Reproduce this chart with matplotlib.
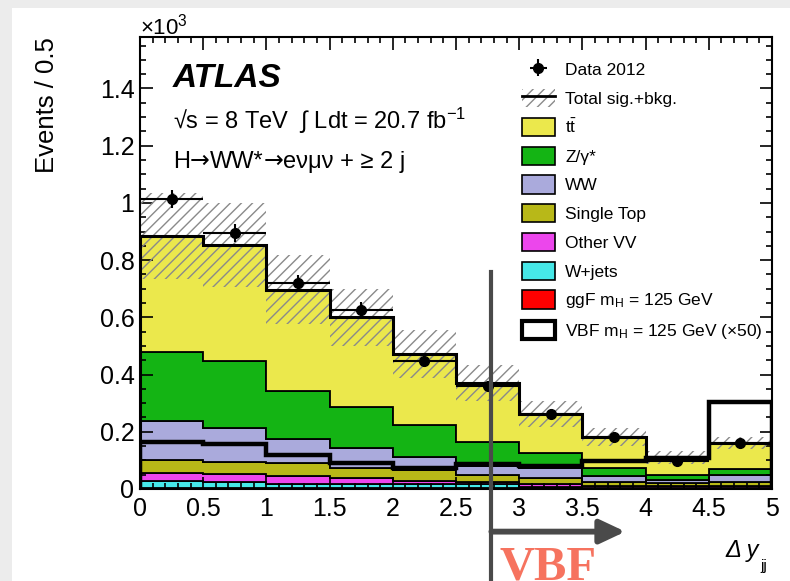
import numpy as np
import matplotlib
matplotlib.use('Agg')
import matplotlib.pyplot as plt
from matplotlib.patches import Patch, Rectangle
from matplotlib.lines import Line2D
from matplotlib.ticker import MultipleLocator, FuncFormatter

plt.rcParams['font.family'] = ['Liberation Sans', 'DejaVu Sans']
plt.rcParams['mathtext.fontset'] = 'custom'
plt.rcParams['mathtext.rm'] = 'Liberation Sans'
plt.rcParams['mathtext.it'] = 'Liberation Sans:italic'
plt.rcParams['mathtext.bf'] = 'Liberation Sans:bold'
plt.rcParams['hatch.linewidth'] = 1.0

# bins in delta y_jj
edges = [0.0, 0.5, 1.0, 1.5, 2.0, 2.5, 3.0, 3.5, 4.0, 4.5, 5.0]
centres = [0.25, 0.75, 1.25, 1.75, 2.25, 2.75, 3.25, 3.75, 4.25, 4.75]

# events per bin
data_2012 = [1013, 895, 720, 627, 446, 360, 263, 181, 99, 160]
ggf = [4, 4, 3, 3, 3, 3, 3, 2, 2, 2]
wjets = [24, 19, 15, 13, 13, 13, 5, 3, 3, 3]
other_vv = [27, 29, 29, 21, 13, 10, 10, 5, 5, 5]
single_top = [45, 44, 45, 35, 37, 23, 22, 15, 10, 16]
ww = [138, 116, 83, 70, 47, 31, 32, 22, 12, 23]
zjets = [242, 234, 169, 144, 111, 86, 53, 28, 17, 20]
ttbar = [404, 406, 353, 314, 248, 204, 137, 106, 62, 91]
total_unc = [150, 146, 120, 100, 83, 64, 44, 31, 22, 21]
vbf_x50 = [166, 156, 119, 90, 72, 88, 80, 99, 110, 305]

W, H = 790, 581


def fx(x):
    return x / W


def fy(y):
    return 1 - y / H


fig = plt.figure(figsize=(7.9, 5.81), dpi=100, facecolor='#ececec')
fig.patches.append(Rectangle((fx(12), 0), 1 - fx(12), fy(8), transform=fig.transFigure,
                             facecolor='white', edgecolor='none', zorder=-10))
ax = fig.add_axes([fx(140), fy(489), fx(632), 452 / H])

# stacked backgrounds, bottom to top
stack = [
    (ggf, '#ff0000', 'ggF m$_{\\mathrm{H}}$ = 125 GeV'),
    (wjets, '#46e8e8', 'W+jets'),
    (other_vv, '#ec46ec', 'Other VV'),
    (single_top, '#b8b818', 'Single Top'),
    (ww, '#aaaadc', 'WW'),
    (zjets, '#14b414', 'Z/\u03b3*'),
    (ttbar, '#ebe84c', '$\\mathrm{t\\bar{t}}$'),
]
base = np.zeros(len(centres))
for vals, col, lab in stack:
    top = base + np.array(vals)
    ax.stairs(top, edges, baseline=base, fill=True, facecolor=col,
              edgecolor='k', lw=1.3, zorder=1)
    base = top
total = base

unc = np.array(total_unc)
ax.stairs(total + unc, edges, baseline=total - unc, fill=True, facecolor='none',
          edgecolor='#8a8a8a', hatch='///', lw=0, zorder=2)
ax.stairs(total, edges, color='k', lw=2.2, zorder=3)
ax.stairs(vbf_x50, edges, color='k', lw=3.2, zorder=3)

data_err = ax.errorbar(centres, data_2012, xerr=0.25, yerr=np.sqrt(data_2012),
                       fmt='o', color='k', ms=7, lw=1.5, capsize=0, zorder=5)

ax.set_xlim(0, 5)
ax.set_ylim(0, 1580)
ax.xaxis.set_major_locator(MultipleLocator(0.5))
ax.xaxis.set_minor_locator(MultipleLocator(0.1))
ax.yaxis.set_major_locator(MultipleLocator(200))
ax.yaxis.set_minor_locator(MultipleLocator(50))
ax.xaxis.set_major_formatter(FuncFormatter(lambda v, p: '%g' % v))
ax.yaxis.set_major_formatter(FuncFormatter(lambda v, p: '%g' % (v / 1000)))
ax.tick_params(which='both', direction='in', top=True, right=True, width=1.2)
ax.tick_params(which='major', length=9, labelsize=18)
ax.tick_params(which='minor', length=4.5)
ax.tick_params(axis='x', pad=6)
ax.tick_params(axis='y', pad=4)
for sp in ax.spines.values():
    sp.set_linewidth(1.5)

# legend
handles = [data_err,
           (Patch(facecolor='none', edgecolor='#8a8a8a', hatch='///', lw=0),
            Line2D([], [], color='k', lw=2))]
labels = ['Data 2012', 'Total sig.+bkg.']
for vals, col, lab in stack[::-1]:
    handles.append(Patch(facecolor=col, edgecolor='k', lw=1.2))
    labels.append(lab)
handles.append(Patch(facecolor='white', edgecolor='k', lw=3))
labels.append('VBF m$_{\\mathrm{H}}$ = 125 GeV (\u00d750)')
ax.legend(handles, labels, loc='upper left', bbox_to_anchor=(fx(522), fy(60)),
          bbox_transform=fig.transFigure, frameon=False, fontsize=12.5,
          handlelength=1.9, handleheight=1.25, handletextpad=0.6,
          labelspacing=0.6, borderpad=0, borderaxespad=0)

# labels and annotations
fig.text(fx(173), fy(87), 'ATLAS', fontsize=24, weight='bold', style='italic', va='baseline')
fig.text(fx(173), fy(129), '\u221as = 8 TeV  \u222b Ldt = 20.7 fb$^{-1}$', fontsize=17, va='baseline')

# decay chain, pieced together so the arrows come from DejaVu Sans
pieces = [('H', 'Liberation Sans'), ('\u2192', 'DejaVu Sans'), ('WW*', 'Liberation Sans'),
          ('\u2192', 'DejaVu Sans'), ('e\u03bd\u03bc\u03bd + \u2265 2 j', 'Liberation Sans')]
prev = None
for piece, fam in pieces:
    if prev is None:
        prev = fig.text(fx(173), fy(168), piece, fontsize=17, family=fam, va='baseline')
    else:
        prev = ax.annotate(piece, xy=(1, 0), xycoords=prev, fontsize=17, family=fam,
                           va='bottom', ha='left', annotation_clip=False)

fig.text(fx(140), fy(35), '\u00d710$^{3}$', fontsize=16, va='baseline')
fig.text(fx(47), fy(37), 'Events / 0.5', rotation=90, fontsize=18.5, ha='center', va='top')
fig.text(fx(725), fy(557), '\u0394 y', fontsize=17, style='italic', va='baseline')
fig.text(fx(760), fy(559), 'jj', fontsize=11, va='top')

# VBF selection marker
ax.plot([2.78, 2.78], [760, -330], color='#4a4a4a', lw=3, clip_on=False, zorder=6)
ax.annotate('', xy=(3.84, -149), xytext=(2.78, -149),
            arrowprops=dict(arrowstyle='-|>,head_length=0.85,head_width=0.4', lw=4.2,
                            color='#4a4a4a', mutation_scale=18, shrinkA=0, shrinkB=0),
            annotation_clip=False, zorder=6)
fig.text(fx(499), fy(579), 'VBF', family='Liberation Serif', weight='bold', fontsize=35,
         color='#f6735f', va='baseline')

fig.savefig('out.png', dpi=100, facecolor=fig.get_facecolor())
